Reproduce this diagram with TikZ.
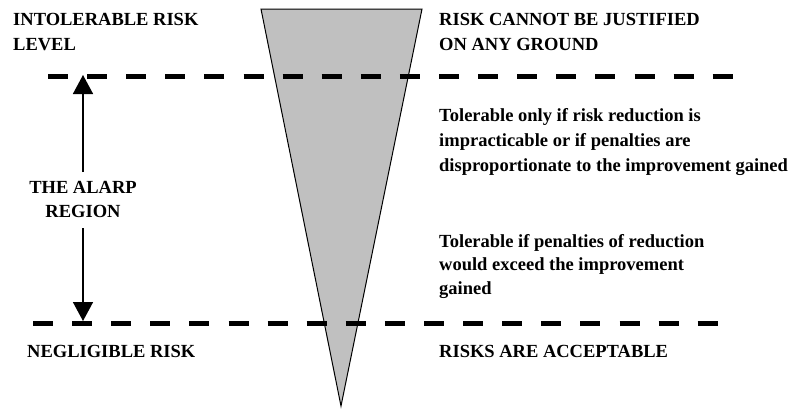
\documentclass[tikz,border=0pt]{standalone}
\usepackage{fontspec}
\setmainfont{Liberation Serif}
\usetikzlibrary{arrows.meta}
\definecolor{wedgegray}{RGB}{192,192,192}
\tikzset{
  lbl/.style={anchor=base west, align=left, inner sep=0pt,
    font=\fontsize{18.5}{25}\selectfont\bfseries},
  lblc/.style={anchor=base, align=center, inner sep=0pt,
    font=\fontsize{18.5}{24}\selectfont\bfseries},
  limit/.style={line width=5pt, dash pattern=on 20pt off 19.1pt},
  wedge/.style={fill=wedgegray, draw=black, line width=1pt, line join=miter},
  span/.style={line width=1.6pt, -{Triangle[length=19pt,width=20pt]}}
}
\begin{document}
\begin{tikzpicture}[x=1pt,y=-1pt]
\useasboundingbox (0,0) rectangle (793,408);

% risk wedge, narrowing downwards
\draw[wedge] (261,9) -- (422,9) -- (341,406) -- cycle;

% region limits
\coordinate (topL) at (48,76);
\coordinate (topR) at (733,76);
\coordinate (botL) at (33,323);
\coordinate (botR) at (718,323);
\draw[limit] (topL) -- (topR);
\draw[limit] (botL) -- (botR);

% left-hand labels (positions give the baseline of the last line)
\node[lbl] (intol) at (13,50) {INTOLERABLE RISK\\LEVEL};
\node[lbl] (neglig) at (27,357) {NEGLIGIBLE RISK};
\node[lblc] (alarp) at (83,217) {THE ALARP\\REGION};

% right-hand labels
\node[lbl] (never) at (439,50) {RISK CANNOT BE JUSTIFIED\\ON ANY GROUND};
\node[lbl] (tol1) at (439,171) {Tolerable only if risk reduction is\\impracticable or if penalties are\\disproportionate to the improvement gained};
\node[lbl, font=\fontsize{18.5}{23.5}\selectfont\bfseries] (tol2) at (439,294) {Tolerable if penalties of reduction\\would exceed the improvement\\gained};
\node[lbl] (accept) at (439,357) {RISKS ARE ACCEPTABLE};

% extent of the ALARP region
\coordinate (arrTop) at (83,75);
\coordinate (arrBot) at (83,321);
\draw[span] ([yshift=45pt]alarp.base) -- (arrTop);
\draw[span] ([yshift=-11pt]alarp.base) -- (arrBot);
\end{tikzpicture}
\end{document}
